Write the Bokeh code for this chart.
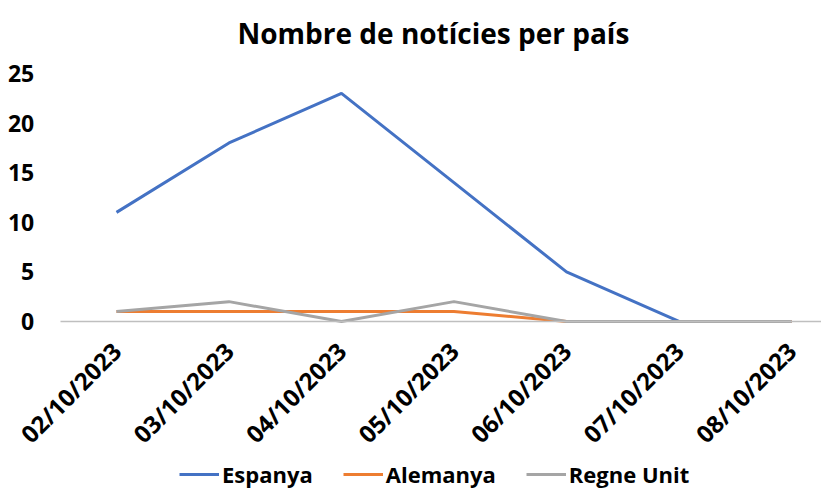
from bokeh.plotting import figure
from bokeh.models import Range1d, FixedTicker, Legend, LegendItem
from bokeh.embed import file_html
from bokeh.resources import INLINE
import math

dates = ["02/10/2023", "03/10/2023", "04/10/2023", "05/10/2023",
         "06/10/2023", "07/10/2023", "08/10/2023"]
espanya = [11, 18, 23, 14, 5, 0, 0]
alemanya = [1, 1, 1, 1, 0, 0, 0]
regne_unit = [1, 2, 0, 2, 0, 0, 0]
series_names = ["Espanya", "Alemanya", "Regne Unit"]
series_colors = ["#4472C4", "#ED7D31", "#A5A5A5"]
y_ticks = [0, 5, 10, 15, 20, 25]

xs = list(range(len(dates)))
FONT = "Open Sans"

p = figure(frame_width=821, frame_height=427, output_backend="svg", toolbar_location=None,
           x_range=Range1d(-1.031, 6.267), y_range=Range1d(-16.94, 26.11),
           min_border_left=0, min_border_right=0, min_border_top=0,
           min_border_bottom=0, title="Nombre de notícies per país")

p.title.text_font = FONT
p.title.text_font_size = "28px"
p.title.text_font_style = "bold"
p.title.align = "left"
p.title.offset = 237
p.title.standoff = 22
p.title.text_color = "black"

p.outline_line_color = None
p.xgrid.grid_line_color = None
p.ygrid.grid_line_color = None

p.yaxis.fixed_location = -0.5
p.yaxis.ticker = FixedTicker(ticks=y_ticks)
p.yaxis.axis_line_color = None
p.yaxis.major_tick_line_color = None
p.yaxis.minor_tick_line_color = None
p.yaxis.major_tick_out = 0
p.yaxis.major_tick_in = 0
p.yaxis.major_label_standoff = 26
p.yaxis.major_label_text_font = FONT
p.yaxis.major_label_text_font_size = "23px"
p.yaxis.major_label_text_font_style = "bold"
p.yaxis.major_label_text_color = "black"

p.xaxis.fixed_location = 0
p.xaxis.bounds = (-0.5, len(dates) - 0.5)
p.xaxis.ticker = FixedTicker(ticks=xs)
p.xaxis.major_label_overrides = {i: d for i, d in zip(xs, dates)}
p.xaxis.axis_line_color = "#BFBFBF"
p.xaxis.axis_line_width = 1.5
p.xaxis.major_tick_line_color = None
p.xaxis.minor_tick_line_color = None
p.xaxis.major_tick_out = 0
p.xaxis.major_tick_in = 0
p.xaxis.major_label_orientation = math.pi / 4
p.xaxis.major_label_standoff = 25
p.xaxis.major_label_text_font = FONT
p.xaxis.major_label_text_font_size = "24px"
p.xaxis.major_label_text_font_style = "bold"
p.xaxis.major_label_text_color = "black"

items = []
for name, color, vals in zip(series_names, series_colors, [espanya, alemanya, regne_unit]):
    r = p.line(xs, vals, line_color=color, line_width=3)
    items.append(LegendItem(label=name, renderers=[r]))

legend = Legend(items=items, orientation="horizontal", location=(179, 0))
legend.label_text_font = FONT
legend.label_text_font_size = "22px"
legend.label_text_font_style = "bold"
legend.label_text_color = "black"
legend.glyph_width = 40
legend.label_standoff = 3
legend.spacing = 30
legend.border_line_color = None
legend.background_fill_alpha = 0
legend.padding = 0
legend.margin = 0
p.add_layout(legend, "center")

open("out.html", "w").write(file_html(p, INLINE))
